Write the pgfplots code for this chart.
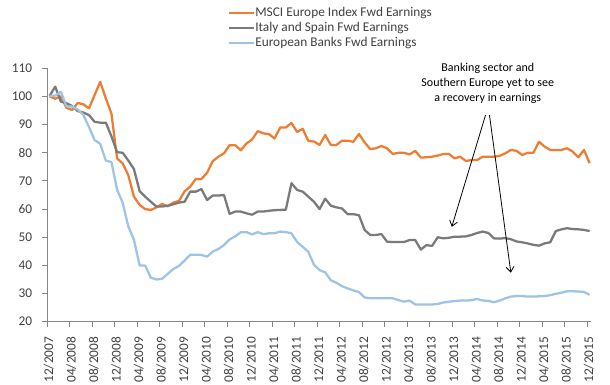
\documentclass[border=0pt]{standalone}
\usepackage{pgfplots}
\pgfplotsset{compat=1.18}
\usepackage{pgfplotstable}
\usepackage{fontspec}
\setmainfont{Carlito}
\usetikzlibrary{arrows.meta}
\definecolor{cOrange}{HTML}{ED7D31}
\definecolor{cGray}{HTML}{7A7A7A}
\definecolor{cBlue}{HTML}{9DC3E6}
\definecolor{axisgray}{HTML}{868686}
\definecolor{txt}{HTML}{404040}
\pgfplotstableread{
i msci itsp banks
0 100 100.2 100.2
1 99.2 103.5 100.3
2 100 98.2 101.7
3 96 97.6 96.5
4 95.2 96.6 96.4
5 97.7 94.8 95.4
6 97.2 94.3 93.5
7 95.8 93.4 89.2
8 100.5 91 84.5
9 105.2 90.7 83.2
10 99.3 90.7 77.2
11 93.9 85.8 76.7
12 78 80.2 66.9
13 76.2 80 62.2
14 72 77.2 53.8
15 64.4 74.2 49.1
16 61.5 66.4 40
17 60 64.4 39.9
18 59.7 62.6 35.6
19 60.6 60.9 35
20 61.8 60.9 35.2
21 61 61.2 37
22 62.3 61.7 38.7
23 62.9 62.3 39.8
24 66.3 62.6 41.7
25 68 66.2 43.8
26 70.7 66.2 43.8
27 70.7 67.1 43.7
28 72.9 63.2 43.1
29 77 64.8 44.9
30 78.6 64.8 45.8
31 79.8 65 47.2
32 82.7 58.3 49.2
33 82.7 59.1 50.3
34 80.9 59.1 51.8
35 83.3 58.5 51.8
36 84.7 58 51
37 87.7 59.1 51.8
38 86.9 59.1 51.1
39 86.6 59.4 51.4
40 85.1 59.6 51.4
41 89 59.7 52
42 89 59.8 51.8
43 90.6 69.2 51.4
44 87.4 66.8 48.3
45 88.5 66.2 46.6
46 84.2 64.4 44.8
47 84 62.6 40.2
48 82.8 60 38.3
49 86.3 63.7 37.5
50 82.8 61.2 34.7
51 82.8 60.6 33.8
52 84.3 60.2 32.6
53 84.3 58.2 31.8
54 83.9 58.2 31.1
55 86.7 57.8 30.5
56 83.7 52.6 28.6
57 81.3 50.8 28.3
58 81.6 50.8 28.3
59 82.4 51.1 28.3
60 81.6 48.4 28.3
61 79.6 48.3 28.3
62 80 48.3 27.7
63 80 48.3 27.1
64 79.4 49 27.5
65 80.7 49 26.1
66 78.3 45.6 26.1
67 78.4 47.2 26.1
68 78.6 46.9 26.1
69 79 50 26.3
70 79.6 49.6 26.8
71 79.6 49.8 27.1
72 78 50.2 27.3
73 78.6 50.2 27.5
74 77.1 50.3 27.5
75 77.4 50.8 27.6
76 77.4 51.5 28.1
77 78.6 52 27.5
78 78.6 51.5 27.4
79 78.6 49.6 26.9
80 78.9 49.5 27.5
81 79.8 49.7 28.3
82 81 49.3 28.9
83 80.7 48.5 29.1
84 79.2 48.2 29.1
85 80 47.8 28.9
86 80 47.3 28.9
87 83.9 47 29
88 82.2 47.8 29.1
89 81 48.2 29.4
90 81 52.2 29.9
91 81 52.8 30.3
92 81.6 53.2 30.8
93 80.4 52.9 30.8
94 78.4 52.8 30.7
95 81 52.6 30.6
96 76.3 52.2 29.5
}\datatable
\begin{document}
\begin{tikzpicture}
\useasboundingbox (0,0) rectangle (457.5pt,288.75pt);
\begin{axis}[
  scale only axis, width=407.8pt, height=190pt,
  at={(35.5pt,47.5pt)}, anchor=south west,
  xmin=-0.4, xmax=96.26, ymin=20, ymax=110,
  axis lines=left,
  axis line style={-, draw=axisgray, line width=0.75pt},
  tick style={draw=axisgray, line width=0.75pt},
  tick align=outside, major tick length=3.75pt,
  xtick={-0.4,3.6,7.6,11.6,15.6,19.6,23.6,27.6,31.6,35.6,39.6,43.6,47.6,51.6,55.6,59.6,63.6,67.6,71.6,75.6,79.6,83.6,87.6,91.6,95.6},
  xticklabels={12/2007,04/2008,08/2008,12/2008,04/2009,08/2009,12/2009,04/2010,08/2010,12/2010,04/2011,08/2011,12/2011,04/2012,08/2012,12/2012,04/2013,08/2013,12/2013,04/2014,08/2014,12/2014,04/2015,08/2015,12/2015},
  ytick={20,30,...,110},
  /pgf/number format/assume math mode=true,
  ticklabel style={font=\fontsize{10}{12}\selectfont, text=txt},
  x tick label style={rotate=90, anchor=east, inner sep=0pt, xshift=-7.5pt, yshift=-1pt},
  y tick label style={anchor=east, inner sep=0pt, xshift=-7.5pt},
  clip=false,
  legend cell align=left,
  legend style={draw=none, fill=none, inner sep=0pt, outer sep=0pt,
    at={(0.3323,1.2408)}, anchor=north west,
    font=\fontsize{10}{12}\selectfont, text=txt,
    nodes={inner sep=0pt, text height=7pt, text depth=2pt},
    row sep=2.25pt,
    /tikz/every even column/.append style={column sep=3.75pt}},
  legend image code/.code={\draw[#1] (0pt,0pt) -- (18.75pt,0pt);},
]
\addplot[color=cOrange, line width=1.7pt, line join=round] table[x=i, y=msci] {\datatable};
\addlegendentry{MSCI Europe Index Fwd Earnings}
\addplot[color=cGray, line width=1.7pt, line join=round] table[x=i, y=itsp] {\datatable};
\addlegendentry{Italy and Spain Fwd Earnings}
\addplot[color=cBlue, line width=1.7pt, line join=round] table[x=i, y=banks] {\datatable};
\addlegendentry{European Banks Fwd Earnings}
\node[align=center, font=\fontsize{9}{11.25}\selectfont, text=black] at (axis cs:77.9,104.8) {Banking sector and\\Southern Europe yet to see\\a recovery in earnings};
\draw[line width=0.6pt, -{Straight Barb[length=4pt, width=6pt]}] (axis cs:77.5,93.4) -- (axis cs:71.5,53.7);
\draw[line width=0.6pt, -{Straight Barb[length=4pt, width=6pt]}] (axis cs:78.2,93.4) -- (axis cs:82,37.4);
\end{axis}
\end{tikzpicture}
\end{document}
